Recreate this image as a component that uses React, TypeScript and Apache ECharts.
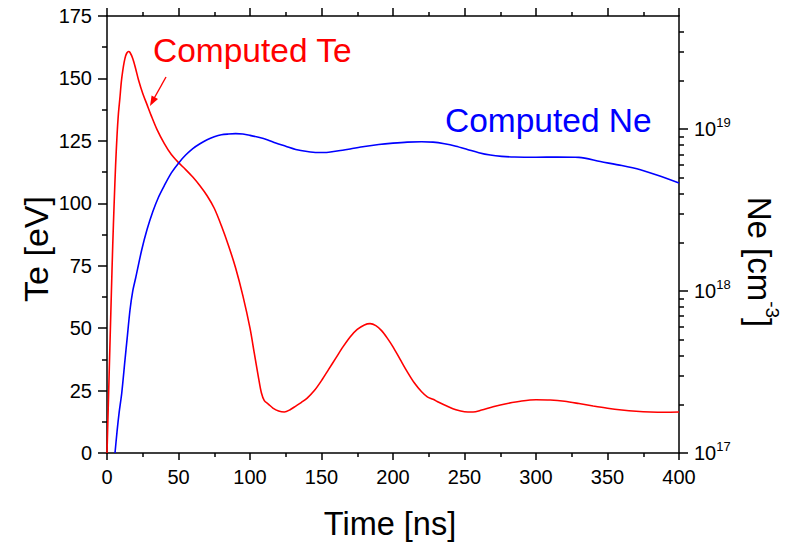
import React, { useEffect, useRef } from "react";
import * as echarts from "echarts";

// Electron temperature (eV) over time (ns)
const teTime = [0, 1, 2, 3, 4, 5, 6, 7, 8, 9, 10, 11, 12, 13, 14, 15, 16, 18, 20, 22, 25, 28, 31, 35, 40, 45, 50, 55, 60, 65, 70, 75, 80, 85, 90, 95, 100, 103, 106, 108, 110, 113, 116, 120, 124, 128, 132, 136, 140, 145, 150, 155, 160, 165, 170, 175, 180, 184, 188, 192, 196, 200, 205, 210, 215, 220, 224, 228, 232, 238, 244, 250, 256, 262, 270, 280, 290, 300, 310, 320, 330, 340, 350, 360, 370, 380, 390, 400];
const teValues = [0, 21, 42, 63, 83, 100, 115, 127, 136, 142, 148.5, 153, 156.5, 159, 160.3, 160.8, 160.5, 158, 154, 149.5, 144, 139.5, 135, 129.5, 124, 119.5, 116.3, 113.5, 110.5, 107, 103, 98, 91, 83, 74, 63, 50, 40, 30, 24, 21, 19.5, 18, 16.8, 16.4, 17.3, 18.8, 20.3, 22, 25, 29, 33.5, 38, 42.5, 46.5, 49.5, 51.3, 51.8, 51, 49, 46, 42.5, 37.5, 32.5, 28, 24.5, 22.5, 21.5, 20.3, 18.7, 17.3, 16.5, 16.4, 17.2, 18.5, 19.8, 20.8, 21.3, 21.2, 20.7, 19.8, 18.8, 17.9, 17.2, 16.7, 16.4, 16.3, 16.4];

// Electron density (cm^-3) over time (ns)
const neTime = [5.6, 7, 8.5, 10.3, 12.6, 14, 16.1, 18, 20, 24.3, 28, 32, 36, 40, 45, 50, 55, 60, 65, 70, 75, 80, 85, 90, 95, 100, 106, 112, 118, 125, 132, 140, 147, 155, 162, 170, 180, 190, 200, 210, 220, 228, 236, 244, 252, 260, 268, 276, 285, 300, 315, 330, 345, 360, 373, 385, 400];
const neValues = [1.0e17, 1.35e17, 1.78e17, 2.34e17, 3.77e17, 5.01e17, 7.67e17, 1.0e18, 1.2e18, 1.8e18, 2.4e18, 3.09e18, 3.8e18, 4.47e18, 5.37e18, 6.17e18, 6.92e18, 7.59e18, 8.13e18, 8.61e18, 8.97e18, 9.23e18, 9.33e18, 9.38e18, 9.33e18, 9.16e18, 8.91e18, 8.61e18, 8.22e18, 7.85e18, 7.5e18, 7.28e18, 7.18e18, 7.21e18, 7.35e18, 7.55e18, 7.82e18, 8.04e18, 8.2e18, 8.32e18, 8.36e18, 8.32e18, 8.13e18, 7.85e18, 7.5e18, 7.16e18, 6.92e18, 6.79e18, 6.73e18, 6.71e18, 6.73e18, 6.7e18, 6.31e18, 5.96e18, 5.61e18, 5.19e18, 4.65e18];

// Axis ranges and tick labels
const timeTicks = [0, 50, 100, 150, 200, 250, 300, 350, 400];
const teTicks = [0, 25, 50, 75, 100, 125, 150, 175];
const neMin = 1e17;
const neMax = 5e19;
const neDecades = [17, 18, 19];
const neMinorMultipliers = [2, 3, 4, 5, 6, 7, 8, 9];

const FONT = "'Liberation Sans', Arial, Helvetica, sans-serif";

export default function App() {
  const ref = useRef<HTMLDivElement | null>(null);

  useEffect(() => {
    if (!ref.current) return;
    const chart = echarts.init(ref.current, null, { renderer: "svg" });

    const logMin = Math.log10(neMin);
    const logMax = Math.log10(neMax);
    const minorLog: number[] = [];
    neDecades.forEach((d) => {
      neMinorMultipliers.forEach((m) => {
        const v = d + Math.log10(m);
        if (v < logMax - 1e-6) minorLog.push(v);
      });
    });

    const axisLine = { show: true, onZero: false, lineStyle: { color: "#000", width: 1.5 } };
    const tickStyle = { color: "#000", width: 1.5 };
    const labelStyle = { color: "#000", fontSize: 20, fontFamily: FONT };

    const option: any = {
      animation: false,
      backgroundColor: "#fff",
      textStyle: { fontFamily: FONT },
      grid: { left: 107, right: 108, top: 16, bottom: 92, containLabel: false },
      xAxis: [
        {
          type: "value",
          position: "bottom",
          min: timeTicks[0],
          max: timeTicks[timeTicks.length - 1],
          interval: 50,
          axisLine,
          axisTick: { show: true, length: 7, lineStyle: tickStyle },
          minorTick: { show: true, splitNumber: 2, length: 4, lineStyle: tickStyle },
          axisLabel: { ...labelStyle, margin: 14 },
          splitLine: { show: false },
        },
        {
          type: "value",
          position: "top",
          min: timeTicks[0],
          max: timeTicks[timeTicks.length - 1],
          interval: 50,
          axisLine,
          axisTick: { show: true, length: 8, lineStyle: tickStyle },
          minorTick: { show: true, splitNumber: 2, length: 4, lineStyle: tickStyle },
          axisLabel: { show: false },
          splitLine: { show: false },
        },
      ],
      yAxis: [
        {
          type: "value",
          position: "left",
          min: teTicks[0],
          max: teTicks[teTicks.length - 1],
          interval: 25,
          axisLine,
          axisTick: { show: true, length: 9, lineStyle: tickStyle },
          minorTick: { show: true, splitNumber: 2, length: 5, lineStyle: tickStyle },
          axisLabel: { ...labelStyle, margin: 15 },
          splitLine: { show: false },
        },
        {
          type: "value",
          position: "right",
          min: logMin,
          max: logMax,
          axisLine,
          axisTick: { show: true, length: 9, lineStyle: tickStyle, customValues: neDecades },
          axisLabel: {
            show: true,
            margin: 15,
            customValues: neDecades,
            formatter: (v: number) => `{b|10}{s|${Math.round(v)}}`,
            rich: {
              b: { fontSize: 20, lineHeight: 26, color: "#000", fontFamily: FONT },
              s: { fontSize: 13, lineHeight: 13, verticalAlign: "top", color: "#000", fontFamily: FONT },
            },
          },
          splitLine: { show: false },
        },
        {
          type: "value",
          position: "right",
          min: logMin,
          max: logMax,
          axisLine: { show: false, onZero: false },
          axisTick: { show: true, length: 5, lineStyle: tickStyle, customValues: minorLog },
          axisLabel: { show: false },
          splitLine: { show: false },
        },
      ],
      series: [
        {
          name: "Computed Te",
          type: "line",
          xAxisIndex: 0,
          yAxisIndex: 0,
          data: teTime.map((t, i) => [t, teValues[i]]),
          showSymbol: false,
          smooth: 0.3,
          lineStyle: { color: "#ff0000", width: 1.6 },
          itemStyle: { color: "#ff0000" },
        },
        {
          name: "Computed Ne",
          type: "line",
          xAxisIndex: 0,
          yAxisIndex: 1,
          data: neTime.map((t, i) => [t, Math.log10(neValues[i])]),
          showSymbol: false,
          smooth: 0.3,
          lineStyle: { color: "#0000ff", width: 1.6 },
          itemStyle: { color: "#0000ff" },
        },
      ],
      graphic: [
        {
          type: "text",
          x: 153,
          y: 50,
          style: {
            text: "Computed Te",
            fill: "#ff0000",
            fontSize: 33.5,
            fontFamily: FONT,
            textAlign: "left",
            textVerticalAlign: "middle",
          },
        },
        {
          type: "text",
          x: 445,
          y: 120,
          style: {
            text: "Computed Ne",
            fill: "#0000ff",
            fontSize: 33.5,
            fontFamily: FONT,
            textAlign: "left",
            textVerticalAlign: "middle",
          },
        },
        {
          type: "line",
          shape: { x1: 166, y1: 77, x2: 154, y2: 98.5 },
          style: { stroke: "#ff0000", lineWidth: 1.4 },
        },
        {
          type: "polygon",
          shape: { points: [[150, 106], [158, 99], [151.6, 95.4]] },
          style: { fill: "#ff0000" },
        },
        {
          type: "text",
          x: 390,
          y: 524,
          style: {
            text: "Time [ns]",
            fill: "#000",
            fontSize: 32.5,
            fontFamily: FONT,
            textAlign: "center",
            textVerticalAlign: "middle",
          },
        },
        {
          type: "text",
          x: 36,
          y: 249,
          rotation: Math.PI / 2,
          style: {
            text: "Te [eV]",
            fill: "#000",
            fontSize: 34,
            fontFamily: FONT,
            textAlign: "center",
            textVerticalAlign: "middle",
          },
        },
        {
          type: "text",
          x: 759,
          y: 262,
          rotation: -Math.PI / 2,
          style: {
            text: "{m|Ne [cm}{s|-3}{m|]}",
            fill: "#000",
            fontFamily: FONT,
            textAlign: "center",
            textVerticalAlign: "middle",
            rich: {
              m: { fontSize: 33, lineHeight: 46, fill: "#000", fontFamily: FONT },
              s: { fontSize: 19, lineHeight: 19, verticalAlign: "top", fill: "#000", fontFamily: FONT },
            },
          },
        },
      ],
    };

    chart.setOption(option);
    return () => {
      chart.dispose();
    };
  }, []);

  return (
    <div
      ref={ref}
      style={{ position: "fixed", left: 0, top: 0, width: 787, height: 545, background: "#fff" }}
    />
  );
}
